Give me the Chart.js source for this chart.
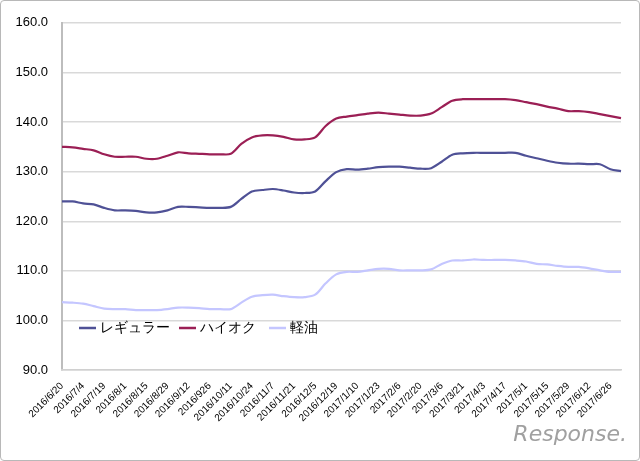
<!DOCTYPE html>
<html><head><meta charset="utf-8">
<script src="https://cdn.jsdelivr.net/npm/chart.js@4"></script>
<style>
html,body{margin:0;padding:0;background:#fff;}
#wrap{position:relative;width:638px;height:459px;border:1px solid #b8b8b8;border-radius:4px;}
#logo{position:absolute;right:12px;bottom:14px;font:italic 22px "DejaVu Sans",sans-serif;color:#a0a0a0;letter-spacing:0px;}
</style></head><body>
<div id="wrap"><canvas id="c" width="638" height="459"></canvas><div id="logo">Response.</div></div>
<script>
const tickLabels=["2016/6/20","2016/7/4","2016/7/19","2016/8/1","2016/8/15","2016/8/29","2016/9/12","2016/926","2016/10/11","2016/10/24","2016/11/7","2016/11/21","2016/12/5","2016/12/19","2017/1/10","2017/1/23","2017/2/6","2017/2/20","2017/3/6","2017/3/21","2017/4/3","2017/4/17","2017/5/1","2017/5/15","2017/5/29","2017/6/12","2017/6/26"];
const seriesNames=["レギュラー","ハイオク","軽油"];
const regular=[124.0,124.0,123.6,123.4,122.7,122.2,122.2,122.1,121.8,121.8,122.2,122.9,122.9,122.8,122.7,122.7,122.9,124.5,126.0,126.3,126.5,126.2,125.8,125.7,126.0,128.1,129.9,130.5,130.4,130.6,130.9,131.0,131.0,130.8,130.6,130.7,132.0,133.4,133.7,133.8,133.8,133.8,133.8,133.8,133.2,132.7,132.2,131.8,131.6,131.6,131.5,131.5,130.5,130.1];
const highoctane=[135.0,134.9,134.6,134.3,133.5,133.0,133.0,133.0,132.6,132.6,133.2,133.9,133.7,133.6,133.5,133.5,133.6,135.6,136.9,137.3,137.3,137.0,136.5,136.5,136.9,139.2,140.7,141.1,141.4,141.7,141.9,141.7,141.5,141.3,141.3,141.7,143.0,144.3,144.6,144.6,144.6,144.6,144.6,144.4,144.0,143.6,143.1,142.7,142.2,142.2,142.0,141.6,141.2,140.8];
const diesel=[103.7,103.6,103.4,102.9,102.4,102.3,102.3,102.1,102.1,102.1,102.3,102.6,102.6,102.5,102.3,102.3,102.3,103.6,104.8,105.1,105.2,104.9,104.7,104.7,105.2,107.5,109.3,109.8,109.8,110.1,110.4,110.4,110.1,110.1,110.1,110.3,111.4,112.1,112.1,112.3,112.2,112.2,112.2,112.1,111.9,111.4,111.3,111.0,110.8,110.8,110.5,110.1,109.8,109.8];
const categories=regular.map((_,i)=>i%2===0&&tickLabels[i/2]?tickLabels[i/2]:"");
const colors=["#4f5196","#9b1f55","#c4c6ff"];
const legendPlugin={id:'inlegend',afterDraw(ch){const c=ch.ctx;const xs=[78,178,268];c.save();c.font='14px "Liberation Sans","DejaVu Sans",sans-serif';c.textBaseline='middle';ch.data.datasets.forEach((d,i)=>{c.strokeStyle=d.borderColor;c.lineWidth=2.5;c.beginPath();c.moveTo(xs[i],327);c.lineTo(xs[i]+17,327);c.stroke();c.fillStyle='#000';c.fillText(d.label,xs[i]+21,327);});c.restore();}};
new Chart(document.getElementById('c'),{type:'line',
data:{labels:categories,datasets:[regular,highoctane,diesel].map((d,i)=>({label:seriesNames[i],data:d,borderColor:colors[i],backgroundColor:colors[i],borderWidth:2.2,pointRadius:0,tension:0.3}))},
options:{responsive:false,animation:false,layout:{padding:{left:4,right:18,top:11,bottom:34}},
plugins:{legend:{display:false},tooltip:{enabled:false}},
scales:{y:{min:90,max:160,afterFit(s){s.width=57;},ticks:{stepSize:10,padding:14,callback:v=>v.toFixed(1),color:'#000',font:{size:13,family:'"Liberation Sans",sans-serif'}},grid:{color:'#d9d9d9',lineWidth:1.5,drawTicks:false},border:{color:'#bdbdbd',width:2}},
x:{offset:false,grid:{display:false},border:{color:'#d0d0d0',width:1.5},ticks:{autoSkip:false,maxRotation:45,minRotation:45,color:'#000',font:{size:10,family:'"Liberation Sans",sans-serif'},padding:2}}}},
plugins:[legendPlugin]});
</script></body></html>
